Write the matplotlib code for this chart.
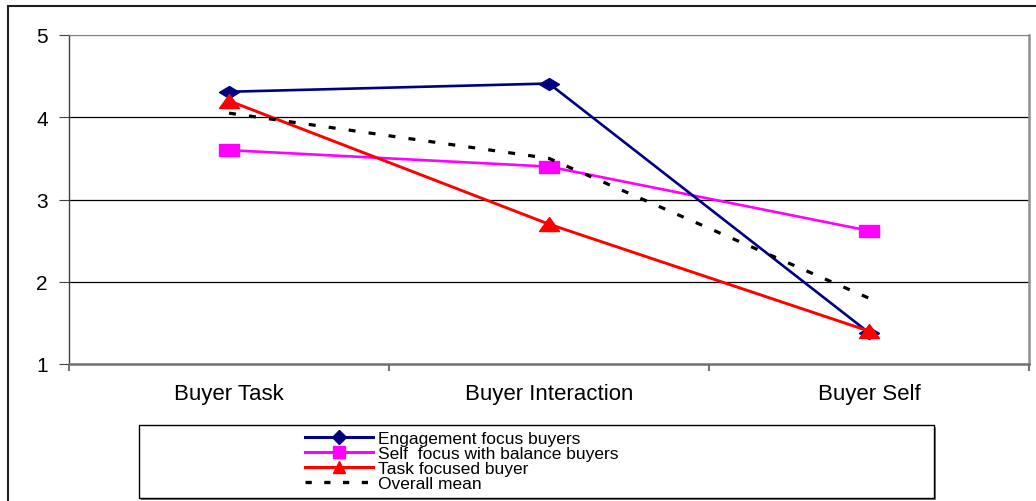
import matplotlib
matplotlib.use("Agg")
import matplotlib.pyplot as plt
import numpy as np
from matplotlib.path import Path
from matplotlib.patches import Rectangle
from matplotlib.lines import Line2D

plt.rcParams['font.family'] = ['Liberation Sans', 'DejaVu Sans']
plt.rcParams['lines.scale_dashes'] = False

categories = ["Buyer Task", "Buyer Interaction", "Buyer Self"]
engagement = [4.31, 4.41, 1.38]
self_balance = [3.60, 3.40, 2.62]
task_focused = [4.20, 2.70, 1.40]
overall_mean = [4.05, 3.50, 1.80]
series_labels = ["Engagement focus buyers", "Self  focus with balance buyers",
                 "Task focused buyer", "Overall mean"]
y_ticks = [1, 2, 3, 4, 5]

# Squat marker shapes (wider than tall)
diamond = Path([(-1, 0), (0, 0.6), (1, 0), (0, -0.6), (-1, 0)],
               [Path.MOVETO, Path.LINETO, Path.LINETO, Path.LINETO, Path.CLOSEPOLY])
square = Path([(-1, -0.68), (1, -0.68), (1, 0.68), (-1, 0.68), (-1, -0.68)],
              [Path.MOVETO, Path.LINETO, Path.LINETO, Path.LINETO, Path.CLOSEPOLY])
triangle = Path([(-1, -0.7), (1, -0.7), (0, 0.7), (-1, -0.7)],
                [Path.MOVETO, Path.LINETO, Path.LINETO, Path.CLOSEPOLY])

W, H = 1036, 502
fig = plt.figure(figsize=(W / 100, H / 100), dpi=100)
ax = fig.add_axes([69 / W, 1 - 365 / H, 960 / W, 329 / H])

x = np.arange(1, len(categories) + 1)
ax.plot(x, engagement, color='#000080', lw=1.9, marker=diamond, ms=14.4,
        mfc='#000080', mec='#000080', label=series_labels[0], zorder=4)
ax.plot(x, self_balance, color='#FF00FF', lw=1.9, marker=square, ms=13.7,
        mfc='#FF00FF', mec='#FF00FF', label=series_labels[1], zorder=3)
ax.plot(x, task_focused, color='#FF0000', lw=2.1, marker=triangle, ms=14.4,
        mfc='#FF0000', mec='#FF0000', label=series_labels[2], zorder=5)
ax.plot(x, overall_mean, color='black', lw=2.3, linestyle=(0, (5, 9.5)),
        label=series_labels[3], zorder=6)

ax.set_xlim(0.5, len(categories) + 0.5)
ax.set_ylim(1, 5)
ax.set_yticks(y_ticks)
ax.set_yticklabels([str(v) for v in y_ticks], fontsize=15)
ax.tick_params(axis='y', length=7.2, width=0.8, color='#404040', pad=8)
for v in y_ticks[1:]:
    ax.axhline(v, color='black' if v < 5 else '#808080', lw=0.9, zorder=1)

# Category boundaries carry the tick marks; labels sit on the minor ticks
ax.set_xticks(np.arange(0.5, len(categories) + 1, 1.0))
ax.set_xticklabels([])
ax.tick_params(axis='x', which='major', length=5, width=1.2, color='#555555')
ax.set_xticks(x, minor=True)
ax.set_xticklabels(categories, minor=True, fontsize=16)
ax.tick_params(axis='x', which='minor', length=0, pad=14)

ax.spines['left'].set_color('#404040')
ax.spines['left'].set_linewidth(1.0)
ax.spines['bottom'].set_color('#707070')
ax.spines['bottom'].set_linewidth(1.8)
ax.spines['top'].set_color('#808080')
ax.spines['right'].set_color('#909090')
ax.spines['right'].set_linewidth(1.8)

# Outer chart frame
fig.patches.append(Rectangle((8 / W, -0.1), 1.2, 1 - 7 / H + 0.1,
                             transform=fig.transFigure, fill=False,
                             ec='#202020', lw=1.5, zorder=0))

# Legend frame with a light shadow
lx0, lx1, ly0, ly1 = 139, 934, 426, 499
fig.patches.append(Rectangle(((lx0 + 2) / W, 1 - (ly1 + 2) / H), (lx1 - lx0) / W,
                             (ly1 - ly0) / H, transform=fig.transFigure,
                             fc='#808080', ec='none', zorder=1))
fig.patches.append(Rectangle((lx0 / W, 1 - ly1 / H), (lx1 - lx0) / W,
                             (ly1 - ly0) / H, transform=fig.transFigure,
                             fc='white', ec='black', lw=1.0, zorder=2))

handles, labels = ax.get_legend_handles_labels()
handles[0] = Line2D([], [], color='#000080', lw=2.2, marker='D', ms=7)
handles[1] = Line2D([], [], color='#FF00FF', lw=2.2, marker='s', ms=8)
handles[2] = Line2D([], [], color='#FF0000', lw=2.2, marker='^', ms=9)
handles[3] = Line2D([], [], color='black', lw=2.4, linestyle=(0, (4.5, 9)))
leg = fig.legend(handles, labels, loc='upper left',
                 bbox_to_anchor=(305 / W, 1 - 431.5 / H), frameon=False,
                 fontsize=12.5, handlelength=3.9, handletextpad=0.3,
                 labelspacing=0.0, borderpad=0, borderaxespad=0)
leg.set_zorder(5)

fig.savefig("out.png", dpi=100)
